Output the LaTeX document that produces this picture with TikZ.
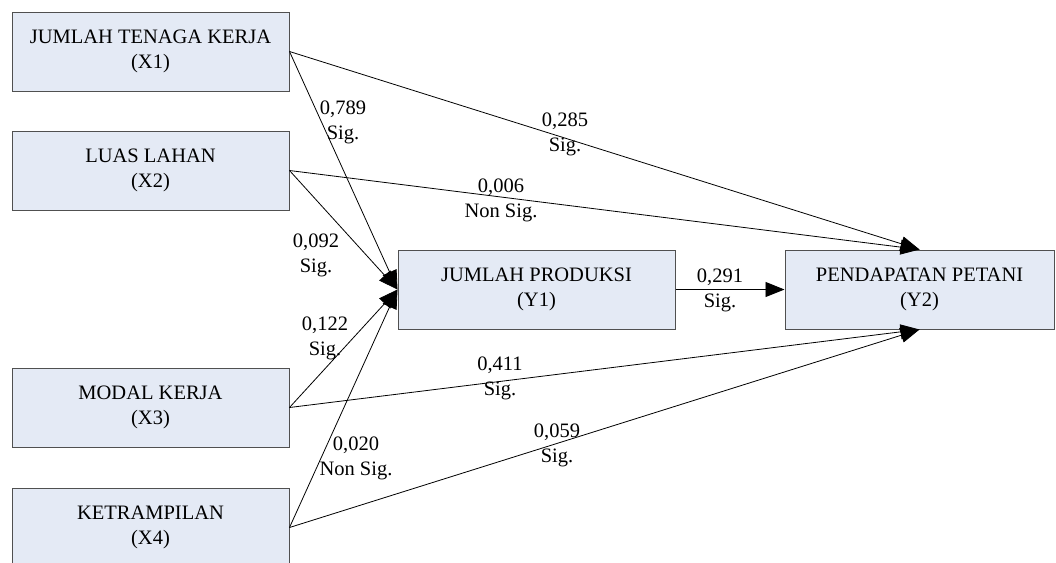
\documentclass[tikz,border=0pt]{standalone}
\usepackage{fontspec}
\setmainfont{Liberation Serif}
\usetikzlibrary{arrows.meta}
\definecolor{boxfill}{HTML}{E4EAF5}
\definecolor{boxline}{HTML}{505050}
\tikzset{
    var/.style={draw=boxline, line width=1pt, fill=boxfill, minimum width=277pt, minimum height=79pt, inner sep=0pt, align=center, font=\fontsize{20.5}{25}\selectfont},
    coef/.style={align=center, inner sep=0pt, font=\fontsize{20.5}{25}\selectfont},
    link/.style={line width=0.8pt, -{Triangle[length=19pt, width=15pt]}}
}
\begin{document}
\begin{tikzpicture}[x=1pt, y=-1pt]
\useasboundingbox (0,0) rectangle (1056,562);
\clip (0,0) rectangle (1056,562);
% variables
\node[var](x1) at (150.5,51.5){JUMLAH TENAGA KERJA\\(X1)};
\node[var](x2) at (150.5,170.5){LUAS LAHAN\\(X2)};
\node[var](x3) at (150.5,407.5){MODAL KERJA\\(X3)};
\node[var](x4) at (150.5,527.5){KETRAMPILAN\\(X4)};
\node[var](y1) at (536.5,289.5){JUMLAH PRODUKSI\\(Y1)};
\node[var, minimum width=269pt](y2) at (919.5,289.5){PENDAPATAN PETANI\\(Y2)};

% paths
\draw[link](x1.east)--(y1.west);
\draw[link](x2.east)--(y1.west);
\draw[link](x3.east)--(y1.west);
\draw[link](x4.east)--(y1.west);
\draw[link](x1.east)--(y2.north);
\draw[link](x2.east)--(y2.north);
\draw[link](x3.east)--(y2.south);
\draw[link](x4.east)--(y2.south);
\draw[link](y1)--(y2);

% coefficients
\node[coef](c11) at (343,122){0,789\\Sig.};
\node[coef](c21) at (316,255){0,092\\Sig.};
\node[coef](c31) at (325,338){0,122\\Sig.};
\node[coef](c41) at (356,458){0,020\\Non Sig.};
\node[coef](c12) at (565,134){0,285\\Sig.};
\node[coef](c22) at (501,200){0,006\\Non Sig.};
\node[coef](c32) at (500,378){0,411\\Sig.};
\node[coef](c42) at (557,445){0,059\\Sig.};
\node[coef](cy) at (720,290){0,291\\Sig.};
\end{tikzpicture}
\end{document}
